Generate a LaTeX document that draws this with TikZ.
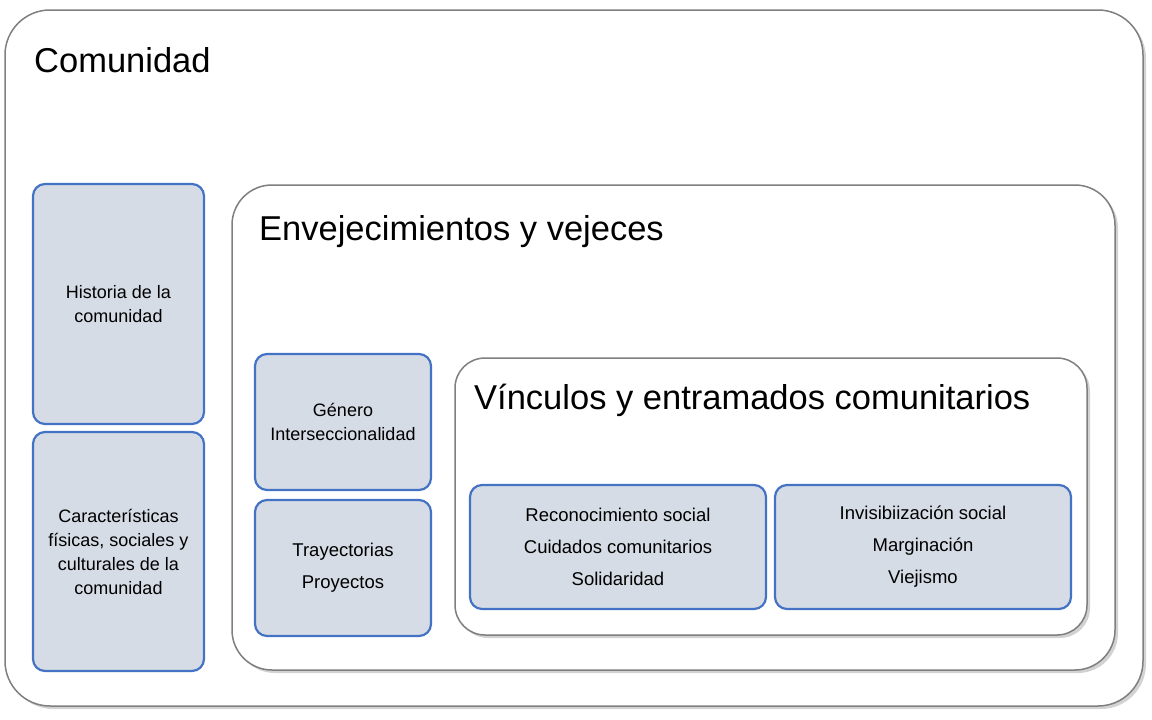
\documentclass[tikz,border=0pt]{standalone}
\usepackage{fontspec}
\setmainfont{Liberation Sans}
\usetikzlibrary{shadows}
\definecolor{bfill}{HTML}{D6DCE5}
\definecolor{bline}{HTML}{4472C4}
\definecolor{gline}{HTML}{7F7F7F}
\tikzset{
 frame/.style={draw=gline,line width=1.5pt,fill=white,rounded corners=#1,drop shadow={shadow xshift=3pt,shadow yshift=-3pt,opacity=0.35}},
 bbox/.style={draw=bline,line width=2.2pt,fill=bfill,rounded corners=12pt},
 big/.style={font=\fontsize{34.5}{40}\selectfont,anchor=west,inner sep=0pt},
 small/.style={font=\fontsize{18.5}{32}\selectfont,align=center,inner sep=0pt},
 smallt/.style={font=\fontsize{18}{24}\selectfont,align=center,inner sep=0pt},
}
\begin{document}
\begin{tikzpicture}[x=1pt,y=-1pt]
\useasboundingbox (0,0) rectangle (1152,720);
\draw[frame=45pt] (5,10) rectangle (1143,706);
\node[big] (t1) at (34,60) {Comunidad};
\node[bbox,minimum width=171pt,minimum height=240pt] (h) at (118.5,304) {};
\node[smallt] at (h) {Historia de la\\comunidad};
\node[bbox,minimum width=171pt,minimum height=239pt] (c) at (118.5,551.5) {};
\node[smallt] at (c) {Características\\físicas, sociales y\\culturales de la\\comunidad};
\draw[frame=40pt] (232,185) rectangle (1115,670);
\node[big] (t2) at (259,232) {Envejecimientos y vejeces};
\node[bbox,minimum width=176pt,minimum height=136pt] (g) at (343,422) {};
\node[smallt] at (g) {Género\\Interseccionalidad};
\node[bbox,minimum width=176pt,minimum height=136pt] (tp) at (343,568) {};
\node[small] at (tp) {Trayectorias\\Proyectos};
\draw[frame=30pt] (455,358) rectangle (1087,635);
\node[big] (t3) at (474,400) {Vínculos y entramados comunitarios};
\node[bbox,minimum width=296pt,minimum height=124pt] (r) at (618,547) {};
\node[small] at (r) {Reconocimiento social\\Cuidados comunitarios\\Solidaridad};
\node[bbox,minimum width=296pt,minimum height=124pt] (iv) at (923,547) {};
\node[small] at (iv) {Invisibiización social\\Marginación\\Viejismo};
\end{tikzpicture}
\end{document}
